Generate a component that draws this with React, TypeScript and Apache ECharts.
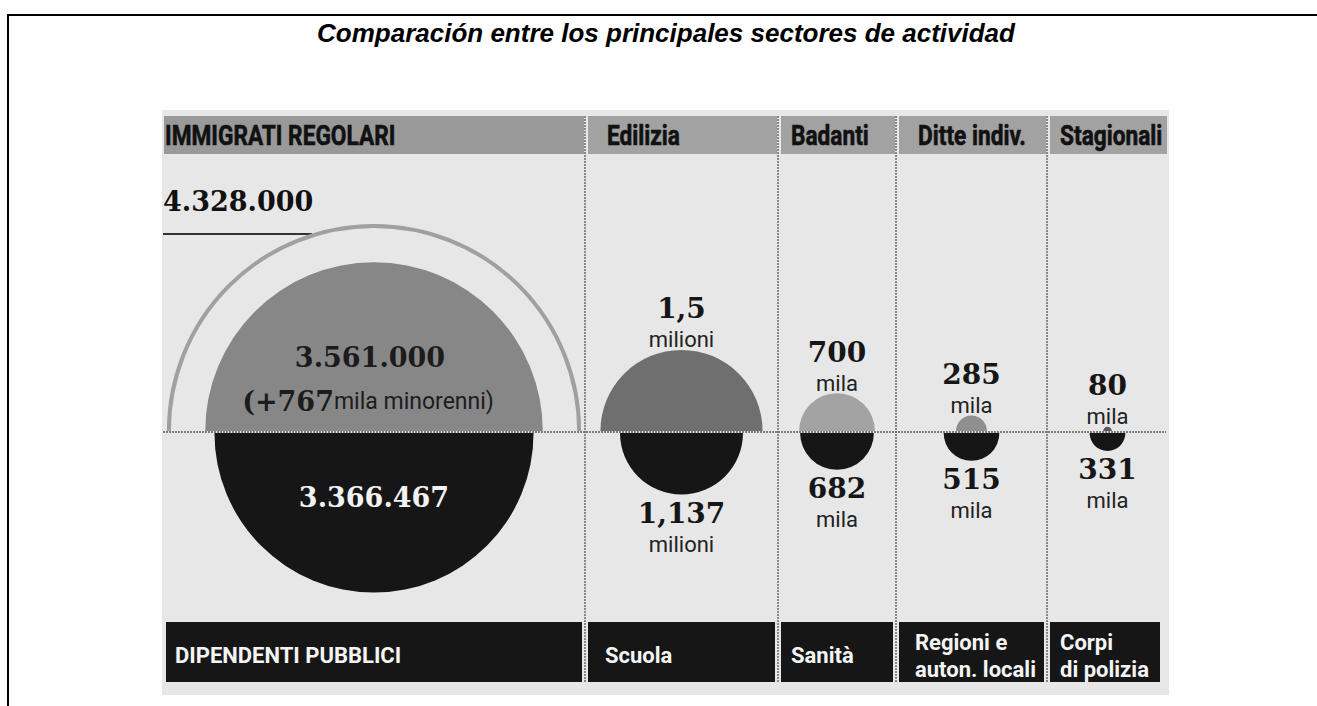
import React, { useEffect, useRef } from "react";
import * as echarts from "echarts";

// ---- texts ----
const TITLE = "Comparación entre los principales sectores de actividad";
const IMMIGRANT_HEADER = "IMMIGRATI REGOLARI";
const SECTOR_HEADERS = ["Edilizia", "Badanti", "Ditte indiv.", "Stagionali"];
const PUBLIC_HEADER = "DIPENDENTI PUBBLICI";
const PUBLIC_SECTORS = ["Scuola", "Sanità", "Regioni e\nauton. locali", "Corpi\ndi polizia"];

// ---- values (thousands) ----
const IMMIGRANTS_TOTAL = 4328; // including minors
const IMMIGRANTS_ADULT = 3561;
const IMMIGRANT_MINORS = 767;
const PUBLIC_TOTAL = 3366.467;
const SECTOR_WORKERS = [1500, 700, 285, 80];
const PUBLIC_WORKERS = [1137, 682, 515, 331];

// ---- value labels ----
const IMMIGRANT_TOTAL_LABEL = "4.328.000";
const IMMIGRANT_ADULT_LABEL = "3.561.000";
const PUBLIC_TOTAL_LABEL = "3.366.467";
const SECTOR_NUM_LABELS = ["1,5", "700", "285", "80"];
const SECTOR_UNIT_LABELS = ["milioni", "mila", "mila", "mila"];
const PUBLIC_NUM_LABELS = ["1,137", "682", "515", "331"];
const PUBLIC_UNIT_LABELS = ["milioni", "mila", "mila", "mila"];

// ---- layout / style ----
const W = 1317;
const H = 706;
const COL_EDGES = [163, 585, 778, 896, 1047, 1168];
const BASE_Y = 432;
const HALF_H = 200;
const PANEL = { x0: 162, x1: 1169, y0: 110, y1: 695 };
const HEADER_Y = [116, 154];
const FOOTER_Y = [622, 682];
const HEADER_PAD = [2, 22, 13, 22, 13];
const FOOTER_PAD = [12, 20, 13, 19, 13];
const UPPER_FILLS = ["#6f6f6f", "#a3a3a3", "#8f8f8f", "#5a5a5a"];
const SERIF = "'DejaVu Serif', serif";
const SANS = "Roboto, 'DejaVu Sans', sans-serif";
const DARK = "#161616";

const colCenter = (i: number) => (COL_EDGES[i] + COL_EDGES[i + 1]) / 2;

function txt(x: number, y: number, text: string, o: any = {}) {
  return {
    type: "text",
    x,
    y,
    z2: 10,
    style: {
      text,
      fill: o.fill || "#1a1a1a",
      fontSize: o.fontSize || 22,
      fontFamily: o.fontFamily || SANS,
      fontWeight: o.fontWeight || "normal",
      align: o.align || "center",
      textAlign: o.align || "center",
      verticalAlign: "middle",
      textVerticalAlign: "middle",
      rich: o.rich,
    },
  };
}

export default function App() {
  const ref = useRef<HTMLDivElement>(null);

  useEffect(() => {
    if (!ref.current) return;
    const chart = echarts.init(ref.current, undefined, { renderer: "svg" });

    const immigrantData = [
      [colCenter(0), IMMIGRANTS_TOTAL, 0],
      [colCenter(0), IMMIGRANTS_ADULT, 1],
      [colCenter(0), PUBLIC_TOTAL, 2],
    ];
    const sectorData = SECTOR_WORKERS.map((v, i) => [colCenter(i + 1), v, i]);
    const publicData = PUBLIC_WORKERS.map((v, i) => [colCenter(i + 1), v, i]);

    const geom = (api: any) => {
      const [cx, cy] = api.coord([api.value(0), 0]);
      const r = Math.abs(api.size([0, api.value(1)])[1]);
      return { cx, cy, r };
    };

    const graphics: any[] = [];
    // frame
    graphics.push({ type: "line", shape: { x1: 7, y1: 15, x2: W, y2: 15 }, style: { stroke: "#000", lineWidth: 2 } });
    graphics.push({ type: "line", shape: { x1: 8, y1: 14, x2: 8, y2: H }, style: { stroke: "#000", lineWidth: 2 } });
    // title
    graphics.push({
      type: "text",
      x: 666,
      y: 33,
      style: {
        text: TITLE,
        fill: "#000",
        fontSize: 26,
        fontFamily: "'Liberation Sans', Arial, sans-serif",
        fontWeight: "bold",
        fontStyle: "italic",
        align: "center",
        textAlign: "center",
        verticalAlign: "middle",
        textVerticalAlign: "middle",
      },
    });
    // panel background
    graphics.push({
      type: "rect",
      shape: { x: PANEL.x0, y: PANEL.y0, width: PANEL.x1 - PANEL.x0, height: PANEL.y1 - PANEL.y0 },
      style: { fill: "#e7e7e7" },
      z: -10,
    });
    // header bands + footer bands
    const headers = [IMMIGRANT_HEADER, ...SECTOR_HEADERS];
    for (let i = 0; i < 5; i++) {
      const x0 = COL_EDGES[i] + (i === 0 ? 1 : 3);
      const x1 = COL_EDGES[i + 1] - 1;
      graphics.push({
        type: "rect",
        shape: { x: x0, y: HEADER_Y[0], width: x1 - x0, height: HEADER_Y[1] - HEADER_Y[0] },
        style: { fill: i === 0 ? "#999999" : "#a2a2a2" },
        z: -5,
      });
      graphics.push({
        type: "text",
        x: COL_EDGES[i] + HEADER_PAD[i],
        y: (HEADER_Y[0] + HEADER_Y[1]) / 2 + 1,
        scaleX: 0.84,
        style: {
          text: headers[i],
          fill: "#111111",
          stroke: "#111111",
          lineWidth: 0.6,
          fontSize: 27,
          fontFamily: SANS,
          fontWeight: "bold",
          align: "left",
          textAlign: "left",
          verticalAlign: "middle",
          textVerticalAlign: "middle",
        },
      });
      const f0 = COL_EDGES[i] + 3;
      const f1 = COL_EDGES[i + 1] - (i === 4 ? 8 : 3);
      graphics.push({
        type: "rect",
        shape: { x: f0, y: FOOTER_Y[0], width: f1 - f0, height: FOOTER_Y[1] - FOOTER_Y[0] },
        style: { fill: DARK },
        z: -5,
      });
      const footText = i === 0 ? PUBLIC_HEADER : PUBLIC_SECTORS[i - 1];
      graphics.push({
        type: "text",
        x: COL_EDGES[i] + FOOTER_PAD[i],
        y: footText.includes("\n") ? 656 : 655,
        style: {
          text: footText,
          fill: "#f4f4f4",
          fontSize: 22,
          lineHeight: 27,
          fontFamily: SANS,
          fontWeight: "bold",
          align: "left",
          textAlign: "left",
          verticalAlign: "middle",
          textVerticalAlign: "middle",
        },
      });
    }
    // separators
    for (let i = 1; i < 5; i++) {
      graphics.push({
        type: "line",
        shape: { x1: COL_EDGES[i], y1: HEADER_Y[0], x2: COL_EDGES[i], y2: FOOTER_Y[1] },
        style: { stroke: "#4a4a4a", lineWidth: 1.2, lineDash: [2, 1] },
        z: 50,
      });
    }
    // baseline
    graphics.push({
      type: "line",
      shape: { x1: COL_EDGES[0], y1: BASE_Y, x2: COL_EDGES[5] - 2, y2: BASE_Y },
      style: { stroke: "#5a5a5a", lineWidth: 1.5, lineDash: [2, 1] },
      z: 50,
    });
    // total label + underline
    graphics.push({
      type: "text",
      x: 163,
      y: 201,
      style: {
        text: IMMIGRANT_TOTAL_LABEL,
        fill: "#111",
        fontSize: 27,
        fontFamily: SERIF,
        fontWeight: "bold",
        align: "left",
        textAlign: "left",
        verticalAlign: "middle",
        textVerticalAlign: "middle",
      },
    });
    graphics.push({
      type: "line",
      shape: { x1: 163, y1: 234, x2: 312, y2: 234 },
      style: { stroke: "#333", lineWidth: 2 },
    });

    const option: any = {
      animation: false,
      backgroundColor: "#ffffff",
      grid: { left: 0, top: BASE_Y - HALF_H, width: W, height: HALF_H * 2, containLabel: false },
      xAxis: { type: "value", min: 0, max: W, show: false },
      yAxis: [
        { type: "value", min: -4220, max: 4220, show: false },
        { type: "value", min: -3700, max: 3700, show: false },
      ],
      graphic: graphics,
      series: [
        {
          type: "custom",
          name: "Immigrati regolari / Dipendenti pubblici",
          yAxisIndex: 0,
          data: immigrantData,
          z: 5,
          renderItem: (params: any, api: any) => {
            const { cx, cy, r } = geom(api);
            const kind = api.value(2);
            if (kind === 0) {
              return {
                type: "arc",
                shape: { cx, cy: cy - 1, r, startAngle: Math.PI, endAngle: Math.PI * 2, clockwise: true },
                style: { stroke: "#a0a0a0", lineWidth: 4, fill: "none" },
              };
            }
            if (kind === 1) {
              return {
                type: "group",
                children: [
                  {
                    type: "sector",
                    shape: { cx, cy: cy - 1, r0: 0, r, startAngle: Math.PI, endAngle: Math.PI * 2, clockwise: true },
                    style: { fill: "#878787" },
                  },
                  txt(cx - 4, cy - 75, IMMIGRANT_ADULT_LABEL, { fontSize: 27, fontFamily: SERIF, fontWeight: "bold", fill: "#1c1c1c" }),
                  txt(cx - 6, cy - 31, `{a|(+${IMMIGRANT_MINORS}}{b|mila minorenni)}`, {
                    rich: {
                      a: { fontSize: 27, fontFamily: SERIF, fontWeight: "bold", fill: "#1c1c1c" },
                      b: { fontSize: 23, fontFamily: SANS, fill: "#1c1c1c" },
                    },
                  }),
                ],
              };
            }
            return {
              type: "group",
              children: [
                {
                  type: "sector",
                  shape: { cx, cy: cy + 1, r0: 0, r, startAngle: 0, endAngle: Math.PI, clockwise: true },
                  style: { fill: DARK },
                },
                txt(cx, cy + 65, PUBLIC_TOTAL_LABEL, { fontSize: 27, fontFamily: SERIF, fontWeight: "bold", fill: "#f2f2f2" }),
              ],
            };
          },
        },
        {
          type: "custom",
          name: "Settori",
          yAxisIndex: 1,
          data: sectorData,
          z: 5,
          renderItem: (params: any, api: any) => {
            const { cx, cy, r } = geom(api);
            const i = api.value(2);
            return {
              type: "group",
              children: [
                {
                  type: "sector",
                  shape: { cx, cy: cy - 1, r0: 0, r, startAngle: Math.PI, endAngle: Math.PI * 2, clockwise: true },
                  style: { fill: UPPER_FILLS[i] },
                },
                txt(cx, cy - r - 11, SECTOR_UNIT_LABELS[i], { fontSize: 22, fill: "#222" }),
                txt(cx, cy - r - 42, SECTOR_NUM_LABELS[i], { fontSize: 28, fontFamily: SERIF, fontWeight: "bold", fill: "#161616" }),
              ],
            };
          },
        },
        {
          type: "custom",
          name: "Pubblico impiego",
          yAxisIndex: 1,
          data: publicData,
          z: 5,
          renderItem: (params: any, api: any) => {
            const { cx, cy, r } = geom(api);
            const i = api.value(2);
            return {
              type: "group",
              children: [
                {
                  type: "sector",
                  shape: { cx, cy: cy + 1, r0: 0, r, startAngle: 0, endAngle: Math.PI, clockwise: true },
                  style: { fill: DARK },
                },
                txt(cx, cy + r + 20, PUBLIC_NUM_LABELS[i], { fontSize: 28, fontFamily: SERIF, fontWeight: "bold", fill: "#161616" }),
                txt(cx, cy + r + 51, PUBLIC_UNIT_LABELS[i], { fontSize: 22, fill: "#222" }),
              ],
            };
          },
        },
      ],
    };

    chart.setOption(option);
    return () => chart.dispose();
  }, []);

  return (
    <div
      ref={ref}
      style={{ position: "absolute", left: 0, top: 0, width: W, height: H, background: "#fff" }}
    />
  );
}
